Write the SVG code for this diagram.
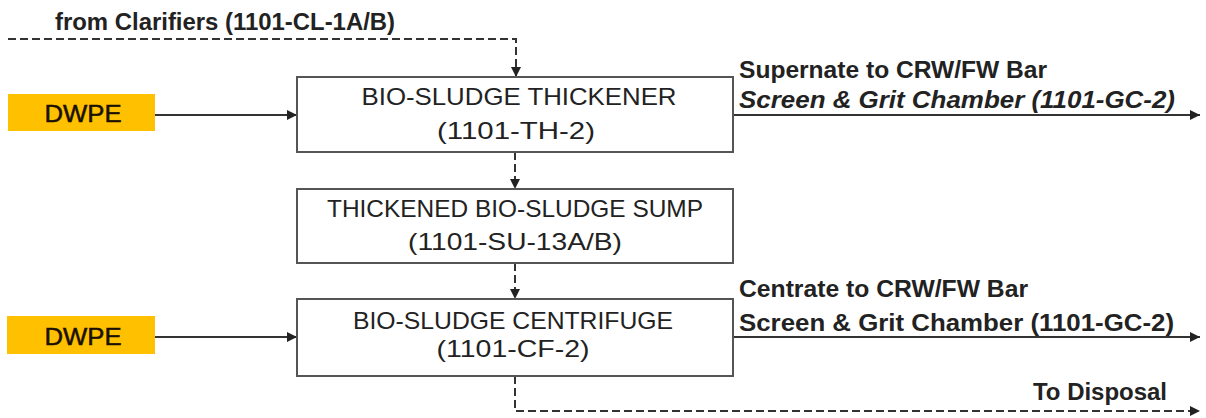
<svg xmlns="http://www.w3.org/2000/svg" width="1206" height="418" viewBox="0 0 1206 418">
  <defs>
    <marker id="arr" viewBox="0 0 10 10" refX="10" refY="5" markerWidth="10" markerHeight="10" markerUnits="userSpaceOnUse" orient="auto">
      <path d="M0,0 L10,5 L0,10 Z" fill="#222"/>
    </marker>
    <style>
      .box { fill: #ffffff; stroke: #555; stroke-width: 2; }
      .dw { fill: #ffc000; }
      .t { font-family: "Liberation Sans", Arial, sans-serif; fill: #222; }
      .bt { font-size: 24px; text-anchor: middle; }
      .lbl { font-size: 23px; font-weight: bold; }
      .dwt { font-size: 23px; text-anchor: middle; fill: #1a1000; stroke: #1a1000; stroke-width: 0.5; }
      .solid { fill: none; stroke: #333; stroke-width: 2; marker-end: url(#arr); }
      .dash { fill: none; stroke: #333; stroke-width: 2; stroke-dasharray: 8 4; marker-end: url(#arr); }
    </style>
  </defs>

  <g id="connectors">
    <path class="dash" d="M8,39 H516 V77"/>
    <path class="solid" d="M155,115 H297"/>
    <path class="solid" d="M733,115 H1200"/>
    <path class="dash" d="M515,152 V189"/>
    <path class="dash" d="M515,263 V299"/>
    <path class="solid" d="M155,337 H297"/>
    <path class="solid" d="M733,337 H1200"/>
    <path class="dash" d="M515,376 V411 H1200"/>
  </g>

  <g id="label-clarifiers">
    <text class="t lbl" x="55" y="30" textLength="340" lengthAdjust="spacingAndGlyphs">from Clarifiers (1101-CL-1A/B)</text>
  </g>

  <g id="dwpe-1">
    <rect class="dw" x="8" y="94" width="147" height="37"/>
    <text class="t dwt" x="83" y="122" textLength="77" lengthAdjust="spacingAndGlyphs">DWPE</text>
  </g>

  <g id="thickener">
    <rect class="box" x="297" y="77" width="436" height="75"/>
    <text class="t bt" x="519" y="105" textLength="315" lengthAdjust="spacingAndGlyphs">BIO-SLUDGE  THICKENER</text>
    <text class="t bt" x="516" y="139" textLength="158" lengthAdjust="spacingAndGlyphs">(1101-TH-2)</text>
  </g>

  <g id="supernate-label">
    <text class="t lbl" x="739" y="78" textLength="308" lengthAdjust="spacingAndGlyphs">Supernate to CRW/FW Bar</text>
    <text class="t lbl" x="739" y="108" font-style="italic" textLength="436" lengthAdjust="spacingAndGlyphs">Screen &amp; Grit Chamber (1101-GC-2)</text>
  </g>

  <g id="sump">
    <rect class="box" x="297" y="189" width="436" height="74"/>
    <text class="t bt" x="515" y="217" textLength="376" lengthAdjust="spacingAndGlyphs">THICKENED BIO-SLUDGE SUMP</text>
    <text class="t bt" x="515" y="250" textLength="214" lengthAdjust="spacingAndGlyphs">(1101-SU-13A/B)</text>
  </g>

  <g id="dwpe-2">
    <rect class="dw" x="7" y="316" width="148" height="38"/>
    <text class="t dwt" x="83" y="345" textLength="77" lengthAdjust="spacingAndGlyphs">DWPE</text>
  </g>

  <g id="centrifuge">
    <rect class="box" x="297" y="299" width="436" height="77"/>
    <text class="t bt" x="513" y="329" textLength="320" lengthAdjust="spacingAndGlyphs">BIO-SLUDGE CENTRIFUGE</text>
    <text class="t bt" x="513" y="357" textLength="153" lengthAdjust="spacingAndGlyphs">(1101-CF-2)</text>
  </g>

  <g id="centrate-label">
    <text class="t lbl" x="739" y="297" textLength="289" lengthAdjust="spacingAndGlyphs">Centrate to CRW/FW Bar</text>
    <text class="t lbl" x="739" y="331" textLength="435" lengthAdjust="spacingAndGlyphs">Screen &amp; Grit Chamber (1101-GC-2)</text>
  </g>

  <g id="disposal-label">
    <text class="t lbl" x="1033" y="400" textLength="134" lengthAdjust="spacingAndGlyphs">To Disposal</text>
  </g>
</svg>
